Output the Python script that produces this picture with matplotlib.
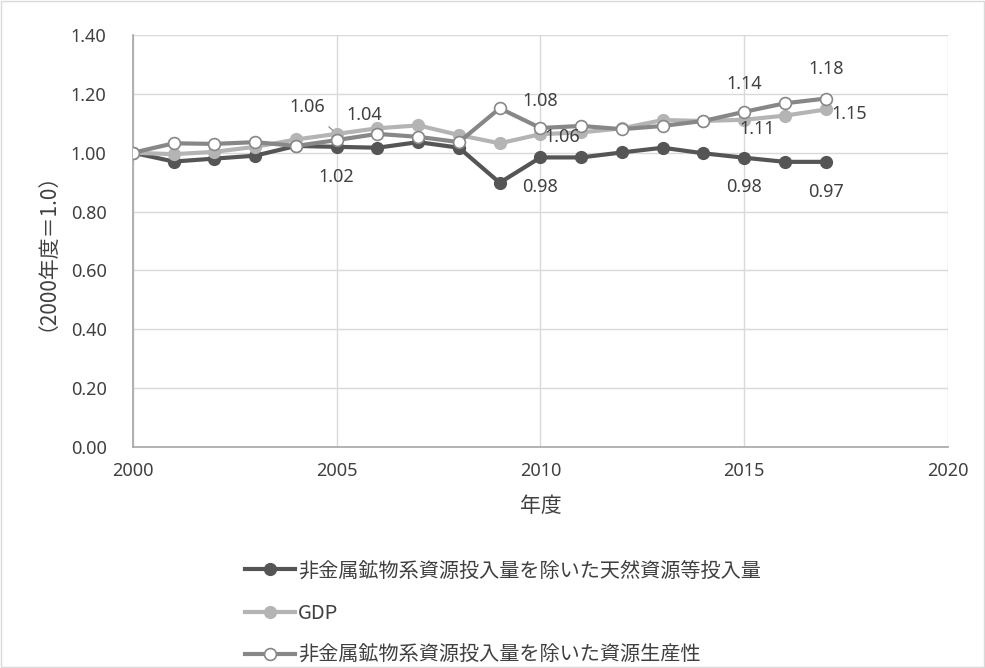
import matplotlib
matplotlib.use("Agg")
from matplotlib import pyplot as plt

plt.rcParams['font.family'] = ['Noto Sans', 'Noto Sans CJK JP', 'DejaVu Sans']
cjk = ['Noto Sans CJK JP', 'DejaVu Sans']

years = list(range(2000, 2018))
resources = [1.00, 0.970, 0.980, 0.990, 1.023, 1.020, 1.017, 1.036, 1.017, 0.898,
             0.984, 0.984, 1.001, 1.017, 0.998, 0.983, 0.969, 0.969]
gdp = [1.00, 0.995, 1.003, 1.020, 1.045, 1.064, 1.083, 1.093, 1.060, 1.032,
       1.063, 1.069, 1.083, 1.111, 1.108, 1.112, 1.126, 1.147]
productivity = [1.00, 1.032, 1.030, 1.036, 1.023, 1.043, 1.064, 1.054, 1.036, 1.151,
                1.084, 1.091, 1.080, 1.091, 1.108, 1.139, 1.168, 1.184]

names = ['非金属鉱物系資源投入量を除いた天然資源等投入量', 'GDP',
         '非金属鉱物系資源投入量を除いた資源生産性']
label_years = [2005, 2010, 2015, 2017]

fig = plt.figure(figsize=[9.85, 6.68], dpi=100)
fig.patches.append(plt.Rectangle((0.001, 0.001), 0.998, 0.998, transform=fig.transFigure,
                                 fill=False, edgecolor='#d9d9d9', linewidth=1))
ax = fig.add_axes([0.135, 0.3308, 0.8274, 0.6168])

txt = '#404040'
ax.plot(years, resources, color='#555555', lw=3, marker='o', ms=8.5,
        mfc='#555555', mec='#555555', label=names[0], zorder=3)
ax.plot(years, gdp, color='#b4b4b4', lw=3, marker='o', ms=8.5,
        mfc='#b4b4b4', mec='#b4b4b4', label=names[1], zorder=4)
ax.plot(years, productivity, color='#878787', lw=3, marker='o', ms=8.5,
        mfc='white', mec='#878787', mew=1.2, label=names[2], zorder=5)

# data labels (offsets in points)
offsets = {
    0: [(0, -22), (0, -21), (0, -21), (0, -22)],
    1: [(-21, 19), (16, -2), (9, -7), (17, -3)],
    2: [(20, 18), (0, 19.5), (0, 20), (0, 21)],
}
series = [resources, gdp, productivity]
for s, vals in enumerate(series):
    for k, yr in enumerate(label_years):
        v = vals[years.index(yr)]
        arrow = None
        if s == 1 and yr == 2005:
            arrow = dict(arrowstyle='-', color='#808080', lw=0.8, shrinkA=8, shrinkB=4)
        ax.annotate(f'{v:.2f}', (yr, v), xytext=offsets[s][k], textcoords='offset points',
                    ha='center', va='center', fontsize=13, color=txt,
                    arrowprops=arrow, zorder=6)

ax.set_xlim(2000, 2020)
ax.set_ylim(0, 1.4)
ax.set_xticks(range(2000, 2021, 5))
ax.set_yticks([i * 0.2 for i in range(8)])
ax.set_yticklabels([f'{i * 0.2:.2f}' for i in range(8)])
ax.grid(True, color='#d9d9d9', lw=1)
ax.set_axisbelow(True)
for side in ['top', 'right']:
    ax.spines[side].set_visible(False)
for side in ['left', 'bottom']:
    ax.spines[side].set_color('#a6a6a6')
    ax.spines[side].set_linewidth(1.2)
ax.tick_params(colors=txt, labelsize=13, length=0)
ax.tick_params(axis='y', pad=19)
ax.tick_params(axis='x', pad=11)
ax.set_xlabel('年度', fontsize=15, color=txt, family=cjk)
ax.set_ylabel('（2000年度＝1.0）', fontsize=15, color=txt, family=cjk)
ax.xaxis.set_label_coords(0.5, -0.117)
ax.yaxis.set_label_coords(-0.105, 0.5)

fig.legend(loc='upper left', bbox_to_anchor=(0.2487, 0.161), bbox_transform=fig.transFigure,
           frameon=False, prop={'family': cjk, 'size': 14.5}, labelcolor=txt,
           handlelength=2.5, handletextpad=0.15, labelspacing=1.05,
           borderpad=0, borderaxespad=0)

fig.savefig('out.png', dpi=100)
